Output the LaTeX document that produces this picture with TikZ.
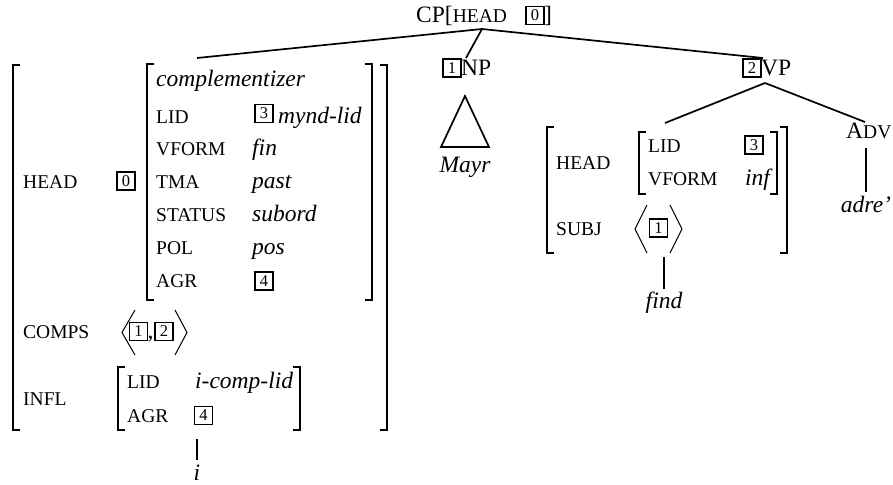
\documentclass[tikz,border=0pt]{standalone}
\usepackage{fontspec}
\setmainfont{Liberation Serif}
\begin{document}
\begin{tikzpicture}[x=1pt,y=-1pt,
  every node/.style={inner sep=0pt},
  lab/.style={anchor=base west, font=\fontsize{23.5}{28}\selectfont},
  val/.style={anchor=base west, font=\fontsize{23.5}{28}\selectfont\itshape},
  word/.style={anchor=base, font=\fontsize{23.5}{28}\selectfont\itshape},
  feat/.style={anchor=base west, font=\fontsize{19.5}{24}\selectfont},
  tag/.style={draw, line width=1.8pt, minimum width=18pt, minimum height=18pt,
              font=\fontsize{16.5}{16.5}\selectfont},
  brk/.style={line width=1.5pt},
  ang/.style={line width=1pt},
  branch/.style={line width=1.7pt}]

\useasboundingbox (0,0) rectangle (893,484);

% square brackets: left x / right x, top, bottom
\newcommand{\lbrk}[3]{\draw[brk] (#1+7,#2) -- (#1,#2) -- (#1,#3) -- (#1+7,#3);}
\newcommand{\rbrk}[3]{\draw[brk] (#1-7,#2) -- (#1,#2) -- (#1,#3) -- (#1-7,#3);}

% ---------- root ----------
\node[lab] (cplab) at (416,23) {CP[\fontsize{19.5}{24}\selectfont HEAD};
\node[tag] (t0root) at (535,15.5) {0};
\node[lab] (cpend) at (544,23) {]};
\coordinate (cp) at (482,29);

% ---------- complementizer AVM ----------
\coordinate (comp) at (197,58);
\lbrk{13}{65}{430}  \rbrk{387}{65}{430}
\lbrk{147}{64}{300} \rbrk{372}{64}{300}
\lbrk{118}{367}{430} \rbrk{300}{367}{430}

\node[feat] (fhead) at (23,188) {HEAD};
\node[tag] (t0) at (126,181) {0};
\node[val] (vtype) at (156,87) {complementizer};
\node[feat] (flid) at (156,123) {LID};
\node[tag] (t3) at (264,113.5) {3};
\node[val] (vlid) at (278,123) {mynd-lid};
\node[feat] (fvform) at (156,155) {VFORM};
\node[val] (vvform) at (252,155) {fin};
\node[feat] (ftma) at (156,188) {TMA};
\node[val] (vtma) at (252,188) {past};
\node[feat] (fstatus) at (156,221) {STATUS};
\node[val] (vstatus) at (252,221) {subord};
\node[feat] (fpol) at (156,254) {POL};
\node[val] (vpol) at (252,254) {pos};
\node[feat] (fagr) at (156,287) {AGR};
\node[tag] (t4) at (264,281) {4};

\node[feat] (fcomps) at (23,338) {COMPS};
\draw[ang] (135,310) -- (122,332.5) -- (135,355);
\node[tag] (c1) at (138.5,331.5) {1};
\node[lab] (comma) at (147.5,338) {,};
\node[tag] (c2) at (164,331.5) {2};
\draw[ang] (175,310) -- (187,332.5) -- (175,355);

\node[feat] (finfl) at (23,405) {INFL};
\node[feat] (ilid) at (127,388) {LID};
\node[val] (ilidv) at (195,388) {i-comp-lid};
\node[feat] (iagr) at (127,422) {AGR};
\node[tag] (i4) at (203.5,415.5) {4};
\coordinate (infltop) at (197,439);
\node[word] (wi) at (197,480) {i};
\draw[branch] (infltop) -- (197,460) coordinate (ibot);

% ---------- NP ----------
\node[tag] (t1np) at (452,68) {1};
\node[lab] (np) at (461,76) {NP};
\coordinate (nptop) at (466,58);
\draw[line width=1.7pt] (465,96) coordinate (apex) -- (441,147) -- (489,147) -- cycle;
\node[word] (mayr) at (465,172) {Mayr};

% ---------- VP ----------
\node[tag] (t2vp) at (752,68) {2};
\node[lab] (vp) at (761,76) {VP};
\coordinate (vptop) at (763,58);
\coordinate (vpbot) at (765,83);
\coordinate (vtop) at (665,123);
\coordinate (advtop) at (865,122);

\lbrk{547}{127}{253} \rbrk{787}{127}{253}
\lbrk{639}{132}{194} \rbrk{777}{132}{194}
\node[feat] (vhead) at (556,169) {HEAD};
\node[feat] (vlid2) at (648,152) {LID};
\node[tag] (v3) at (754,145) {3};
\node[feat] (vvf) at (648,185) {VFORM};
\node[val] (vinf) at (745,185) {inf};
\node[feat] (vsubj) at (556,235) {SUBJ};
\draw[ang] (647,205) -- (635,229) -- (647,253);
\node[tag] (s1) at (658.5,228) {1};
\draw[ang] (670,205) -- (682,229) -- (670,253);
\coordinate (vfoot) at (664,257);
\node[word] (find) at (664,308) {find};
\draw[branch] (vfoot) -- (664,289) coordinate (fbot);

\node[lab] (adv) at (846,139) {A\fontsize{19.5}{24}\selectfont DV};
\coordinate (advbot) at (866,148);
\node[word] (adre) at (866,212) {adre'};
\draw[branch] (advbot) -- (866,192) coordinate (abot);

% ---------- tree branches ----------
\draw[branch] (cp) -- (comp);
\draw[branch] (cp) -- (nptop);
\draw[branch] (cp) -- (vptop);
\draw[branch] (vpbot) -- (vtop);
\draw[branch] (vpbot) -- (advtop);
\end{tikzpicture}
\end{document}
